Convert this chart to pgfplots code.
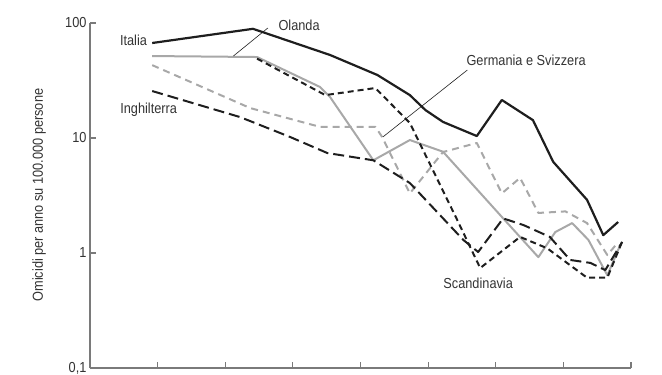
\documentclass[border=0pt]{standalone}
\usepackage{fontspec}
\setmainfont{Liberation Sans}[FakeStretch=0.88]
\usepackage{pgfplots}
\pgfplotsset{compat=1.18}
\definecolor{axisgray}{HTML}{7A7A7A}
\definecolor{txt}{HTML}{333333}
\definecolor{lgray}{HTML}{A8A8A8}
\definecolor{dk}{HTML}{1E1E1E}
\begin{document}
\begin{tikzpicture}[x=1pt,y=1pt]
\useasboundingbox (0,0) rectangle (662,375);
\begin{axis}[
  at={(90pt,7pt)}, anchor=south west,
  scale only axis, width=541pt, height=345pt,
  ymode=log, xmin=1200, xmax=2000, ymin=0.1, ymax=100,
  axis x line=bottom, axis y line=left,
  axis line style={-, draw=axisgray, line width=1.5pt},
  xtick={1300,1400,...,2000}, xticklabels={},
  ytick={0.1,1,10,100}, yticklabels={0{,}1,1,10,100},
  tick align=inside, major tick length=6pt,
  tick style={draw=axisgray, line width=1.2pt},
  minor tick style={draw=none},
  /pgf/number format/assume math mode=true,
  font=\fontsize{14.5}{16}\selectfont,
  ticklabel style={text=txt},
  clip=false,
  line join=round,
]
% Olanda
\addplot[lgray, line width=2pt] coordinates {
 (1292,51.6) (1447,50.6) (1540,27.8) (1555,22.7) (1619,6.4) (1673,9.6) (1722,7.6)
 (1809,2.06) (1863,0.92) (1888,1.52) (1913,1.82) (1937,1.30) (1965,0.64) (1984,1.17)};
% Germania e Svizzera
\addplot[lgray, line width=2pt, dash pattern=on 7pt off 5pt] coordinates {
 (1292,43) (1437,18.2) (1540,12.5) (1622,12.5) (1632,10.2) (1673,3.3) (1722,7.55)
 (1772,9.05) (1809,3.3) (1836,4.5) (1863,2.23) (1903,2.3) (1935,1.82) (1965,0.96) (1980,1.22)};
% Scandinavia
\addplot[dk, line width=2pt, dash pattern=on 6pt off 4pt] coordinates {
 (1447,49) (1548,23.6) (1622,27.2) (1673,13.5) (1743,1.94) (1777,0.74) (1836,1.38)
 (1876,1.1) (1935,0.61) (1965,0.61) (1988,1.3)};
% Inghilterra
\addplot[dk, line width=2pt, dash pattern=on 11pt off 5pt] coordinates {
 (1292,25.6) (1422,15.2) (1496,10.2) (1551,7.4) (1619,6.4) (1673,4.06) (1752,1.3)
 (1774,1.02) (1811,2.0) (1841,1.75) (1880,1.38) (1910,0.87) (1940,0.82) (1962,0.71) (1987,1.25)};
% Italia
\addplot[dk, line width=2.2pt] coordinates {
 (1292,67) (1441,89) (1555,52.7) (1625,35.3) (1673,23.6) (1696,17.5) (1722,13.8)
 (1772,10.4) (1809,21.4) (1855,14.3) (1885,6.2) (1935,2.9) (1959,1.43) (1981,1.86)};
% leader lines
\draw[dk, line width=0.6pt] (axis cs:1412,51.6) -- (axis cs:1463,90.5);
\draw[dk, line width=0.6pt] (axis cs:1758,39) -- (axis cs:1633,10.2);
% labels
\node[anchor=east, text=txt, inner sep=1pt] at (axis cs:1286,71) {Italia};
\node[anchor=west, text=txt, inner sep=1pt] at (axis cs:1477,96) {Olanda};
\node[anchor=west, text=txt, inner sep=1pt] at (axis cs:1755,47.7) {Germania e Svizzera};
\node[anchor=west, text=txt, inner sep=1pt] at (axis cs:1243,17.5) {Inghilterra};
\node[text=txt, inner sep=1pt] at (axis cs:1774,0.548) {Scandinavia};
\node[rotate=90, text=txt] at (axis description cs:-0.094,0.501) {Omicidi per anno su 100.000 persone};
\end{axis}
\end{tikzpicture}
\end{document}
